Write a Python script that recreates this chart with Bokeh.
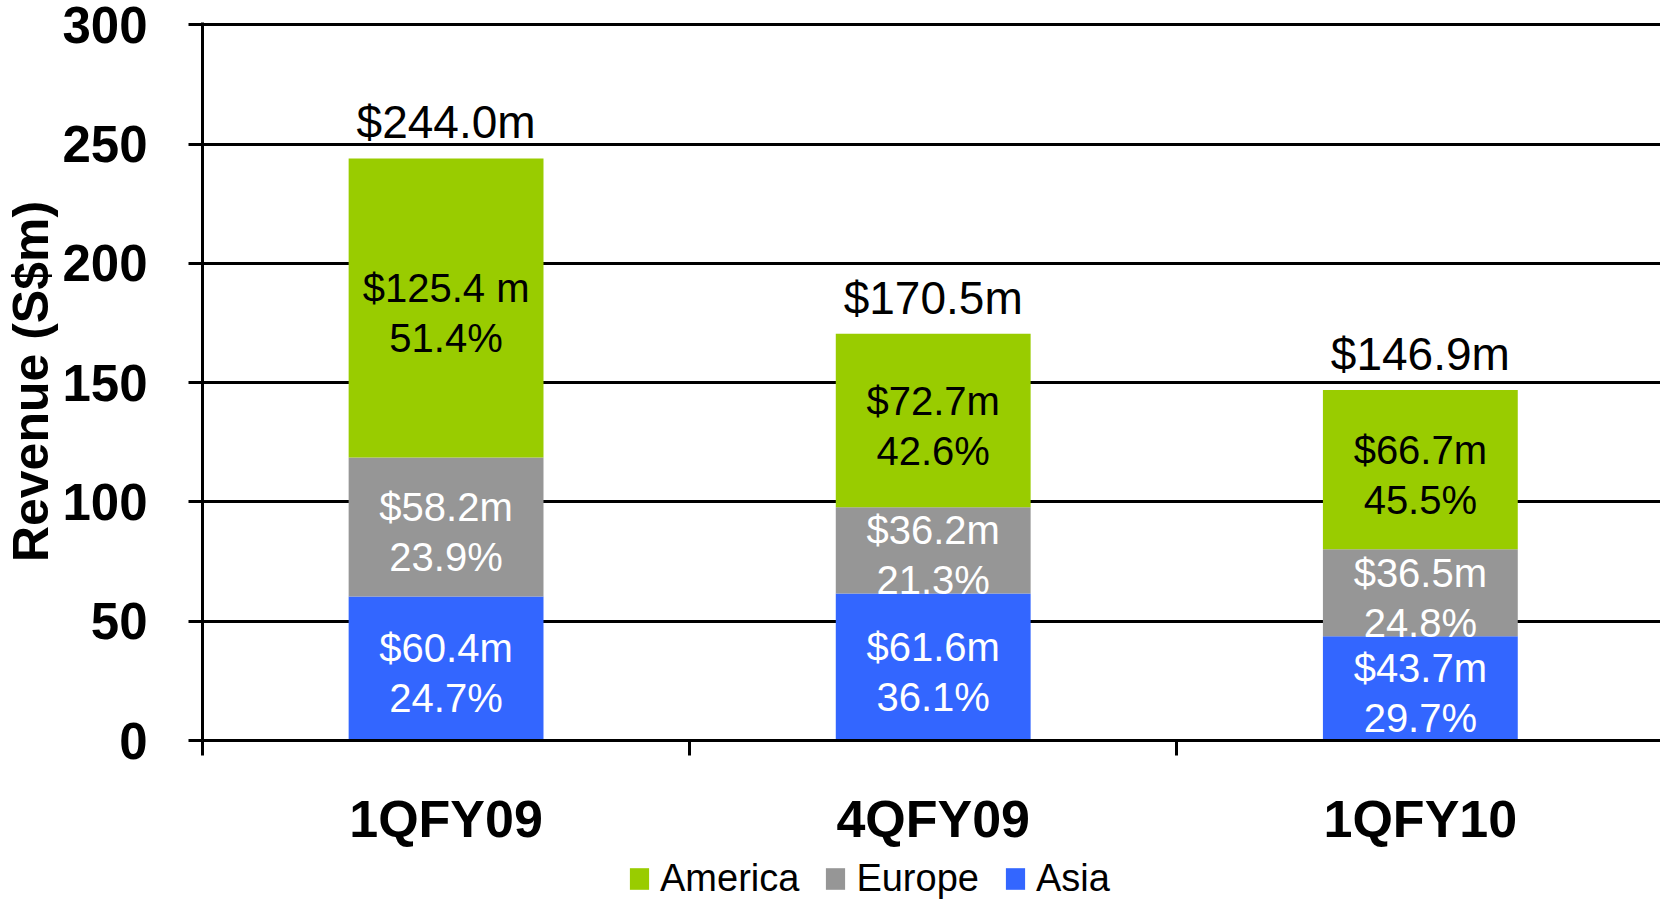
from bokeh.plotting import figure
from bokeh.layouts import column
from bokeh.models import (ColumnDataSource, Range1d, FixedTicker, Legend, LegendItem)
from bokeh.core.properties import value
from bokeh.embed import file_html
from bokeh.resources import INLINE

# ---- data ----
categories = ["1QFY09", "4QFY09", "1QFY10"]
asia = [60.4, 61.6, 43.7]
europe = [58.2, 36.2, 36.5]
america = [125.4, 72.7, 66.7]
asia_pct = [24.7, 36.1, 29.7]
europe_pct = [23.9, 21.3, 24.8]
america_pct = [51.4, 42.6, 45.5]
totals = [244.0, 170.5, 146.9]
america_value_labels = ["$125.4 m", "$72.7m", "$66.7m"]
y_ticks = [0, 50, 100, 150, 200, 250, 300]
series_names = ["America", "Europe", "Asia"]

GREEN = "#99CC00"
GREY = "#969696"
BLUE = "#3366FF"
FONT = "Liberation Sans"

xs = [i + 0.5 for i in range(len(categories))]

src = ColumnDataSource(dict(x=xs, Asia=asia, Europe=europe, America=america))

p = figure(width=1660, height=850, x_range=Range1d(0, 2.993), y_range=Range1d(0, 301),
           output_backend="svg", toolbar_location=None,
           min_border_left=201, min_border_right=0, min_border_top=22, min_border_bottom=110)
p.outline_line_color = None
p.background_fill_color = "white"
p.border_fill_color = "white"

renderers = p.vbar_stack(["Asia", "Europe", "America"], x="x", width=0.4,
                         color=[BLUE, GREY, GREEN], line_color=None, source=src)

# ---- segment labels ----
def seg_labels(bottoms, vals, pcts, vtexts, color):
    mids = [b + v / 2 for b, v in zip(bottoms, vals)]
    s = ColumnDataSource(dict(x=xs, y=mids, v=vtexts, pc=["%.1f%%" % q for q in pcts]))
    p.text(x="x", y="y", text="v", source=s, text_align="center", text_baseline="alphabetic",
           y_offset=-20, text_color=color, text_font=value(FONT), text_font_size=value("40px"))
    p.text(x="x", y="y", text="pc", source=s, text_align="center", text_baseline="alphabetic",
           y_offset=30, text_color=color, text_font=value(FONT), text_font_size=value("40px"))

seg_labels([0, 0, 0], asia, asia_pct, ["$%.1fm" % v for v in asia], "white")
seg_labels(asia, europe, europe_pct, ["$%.1fm" % v for v in europe], "white")
seg_labels([a + e for a, e in zip(asia, europe)], america, america_pct, america_value_labels, "black")

tsrc = ColumnDataSource(dict(x=xs, y=totals, t=["$%.1fm" % t for t in totals]))
p.text(x="x", y="y", text="t", source=tsrc, text_align="center", text_baseline="alphabetic",
       y_offset=-36, text_color="black", text_font=value(FONT), text_font_size=value("46px"))

# ---- axes ----
xa = p.xaxis[0]
xa.ticker = FixedTicker(ticks=xs, minor_ticks=[0, 1, 2, 3])
xa.major_label_overrides = {x: c for x, c in zip(xs, categories)}
xa.major_tick_out = 0
xa.major_tick_in = 0
xa.minor_tick_out = 15
xa.minor_tick_in = 0
xa.minor_tick_line_width = 3
xa.minor_tick_line_color = "black"
xa.axis_line_width = 3
xa.axis_line_color = "black"
xa.major_label_standoff = 34
xa.major_label_text_font = FONT
xa.major_label_text_font_style = "bold"
xa.major_label_text_font_size = "52px"
xa.major_label_text_color = "black"

ya = p.yaxis[0]
ya.ticker = FixedTicker(ticks=y_ticks)
ya.axis_label = "Revenue (S$m)"
ya.axis_label_text_font = FONT
ya.axis_label_text_font_style = "bold"
ya.axis_label_text_font_size = "50px"
ya.axis_label_text_color = "black"
ya.axis_label_standoff = 0
ya.major_tick_out = 14
ya.major_tick_in = 0
ya.minor_tick_out = 0
ya.minor_tick_in = 0
ya.major_tick_line_width = 3
ya.major_tick_line_color = "black"
ya.axis_line_width = 3
ya.axis_line_color = "black"
ya.major_label_standoff = 41
ya.major_label_text_font = FONT
ya.major_label_text_font_style = "bold"
ya.major_label_text_font_size = "51px"
ya.major_label_text_color = "black"

p.xgrid.grid_line_color = None
p.ygrid.ticker = FixedTicker(ticks=y_ticks)
p.ygrid.grid_line_color = "black"
p.ygrid.grid_line_width = 3
p.ygrid.grid_line_alpha = 1.0

# ---- legend strip (separate small figure below) ----
lg = figure(width=1660, height=51, x_range=Range1d(0, 1), y_range=Range1d(0, 1),
            output_backend="svg", toolbar_location=None, x_axis_type=None, y_axis_type=None,
            min_border=0)
lg.outline_line_color = None
lg.xgrid.grid_line_color = None
lg.ygrid.grid_line_color = None
lr = {}
for name, col in zip(series_names, [GREEN, GREY, BLUE]):
    # zero-height placeholder glyphs outside the visible range, used only for legend swatches
    lr[name] = lg.vbar(x=[-5], top=[0], bottom=[0], width=0.1, fill_color=col, line_color=None)

legend = Legend(items=[LegendItem(label=n, renderers=[lr[n]]) for n in series_names],
                orientation="horizontal", location=(425, 1),
                glyph_width=24, glyph_height=27, label_standoff=9, spacing=24,
                padding=0, margin=0, border_line_color=None, background_fill_alpha=0,
                label_text_font=FONT, label_text_font_size="38px", label_text_color="black")
lg.add_layout(legend)

layout = column(p, lg, spacing=0)
open("out.html", "w").write(file_html(layout, INLINE))
